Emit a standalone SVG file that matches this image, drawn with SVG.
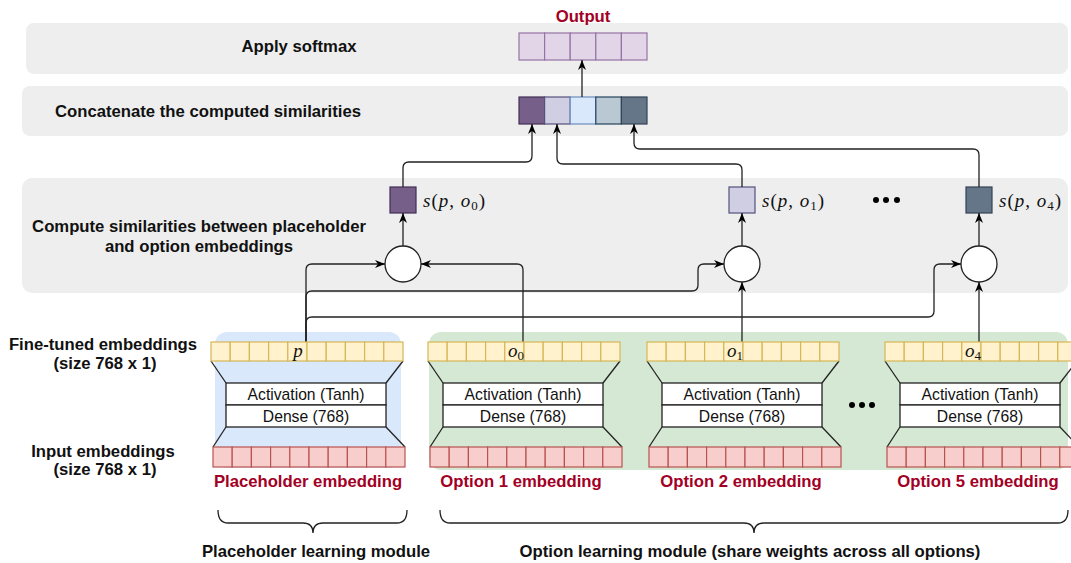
<svg xmlns="http://www.w3.org/2000/svg" xmlns:xlink="http://www.w3.org/1999/xlink" width="1071" height="563" viewBox="0 0 1071 563">
<style>
.panel{fill:#eeeeee;}
.t{font-family:"Liberation Sans",Arial,sans-serif;font-size:16.7px;font-weight:bold;fill:#111;}
.red{fill:#a20025;}
.reg{font-family:"Liberation Sans",Arial,sans-serif;font-size:15.7px;fill:#111;}
.math{font-family:"Liberation Serif","Times New Roman",serif;font-size:19px;fill:#111;}
.sl{letter-spacing:1px;}
.it{font-style:italic;}
.edge{fill:none;stroke:#222;stroke-width:1.3;}
.box{fill:#fff;stroke:#222;stroke-width:1.3;}
.trap{stroke:#222;stroke-width:1.3;}
.circ{fill:#fff;stroke:#222;stroke-width:1.3;}
.yc{fill:#fff2cc;stroke:#d6b656;stroke-width:1.2;}
.rc{fill:#f8cecc;stroke:#b85450;stroke-width:1.2;}
.oc{fill:#e1d5e7;stroke:#9673a6;stroke-width:1.2;}
.brace{fill:none;stroke:#222;stroke-width:1.3;}
</style>
<defs>
<marker id="arr" viewBox="0 0 10 8" refX="10" refY="4" markerWidth="10" markerHeight="8" markerUnits="userSpaceOnUse" orient="auto">
<path d="M0,0 L10,4 L0,8 L3,4 Z" fill="#000"/>
</marker>
<g id="yrow">
<rect class="yc" x="0" y="0" width="19.2" height="19"/><rect class="yc" x="19.2" y="0" width="19.2" height="19"/><rect class="yc" x="38.4" y="0" width="19.2" height="19"/><rect class="yc" x="57.6" y="0" width="19.2" height="19"/><rect class="yc" x="76.8" y="0" width="19.2" height="19"/><rect class="yc" x="96" y="0" width="19.2" height="19"/><rect class="yc" x="115.2" y="0" width="19.2" height="19"/><rect class="yc" x="134.4" y="0" width="19.2" height="19"/><rect class="yc" x="153.6" y="0" width="19.2" height="19"/><rect class="yc" x="172.8" y="0" width="19.2" height="19"/>
</g>
<g id="rrow">
<rect class="rc" x="0" y="0" width="19.2" height="20"/><rect class="rc" x="19.2" y="0" width="19.2" height="20"/><rect class="rc" x="38.4" y="0" width="19.2" height="20"/><rect class="rc" x="57.6" y="0" width="19.2" height="20"/><rect class="rc" x="76.8" y="0" width="19.2" height="20"/><rect class="rc" x="96" y="0" width="19.2" height="20"/><rect class="rc" x="115.2" y="0" width="19.2" height="20"/><rect class="rc" x="134.4" y="0" width="19.2" height="20"/><rect class="rc" x="153.6" y="0" width="19.2" height="20"/><rect class="rc" x="172.8" y="0" width="19.2" height="20"/>
</g>
<g id="mlp">
<line class="trap" x1="0" y1="19" x2="15" y2="41"/>
<line class="trap" x1="192" y1="19" x2="175" y2="41"/>
<line class="trap" x1="15" y1="85" x2="2" y2="105"/>
<line class="trap" x1="175" y1="85" x2="194" y2="105"/>
<rect class="box" x="15" y="41" width="160" height="22"/>
<rect class="box" x="15" y="63" width="160" height="22"/>
<text class="reg" x="95" y="58" text-anchor="middle">Activation (Tanh)</text>
<text class="reg" x="95" y="80" text-anchor="middle">Dense (768)</text>
<use xlink:href="#yrow" x="0" y="0"/>
<use xlink:href="#rrow" x="2" y="105"/>
</g>
</defs>

<g id="panels">
<rect class="panel" x="26" y="23" width="1042" height="51" rx="8"/>
<rect class="panel" x="22" y="86" width="1046" height="50" rx="8"/>
<rect class="panel" x="22" y="178" width="1046" height="115" rx="10"/>
<rect x="215" y="332" width="186" height="136" rx="12" fill="#dae8fc"/>
<rect x="429" y="332" width="639" height="138" rx="12" fill="#d5e8d4"/>
</g>

<g id="row-labels">
<text class="t" x="299" y="52" text-anchor="middle">Apply softmax</text>
<text class="t" x="208" y="117" text-anchor="middle">Concatenate the computed similarities</text>
<text class="t" x="199" y="232" text-anchor="middle">Compute similarities between placeholder</text>
<text class="t" x="199" y="252" text-anchor="middle">and option embeddings</text>
<text class="t" x="103" y="350" text-anchor="middle">Fine-tuned embeddings</text>
<text class="t" x="105" y="369" text-anchor="middle">(size 768 x 1)</text>
<text class="t" x="103" y="457" text-anchor="middle">Input embeddings</text>
<text class="t" x="105" y="475" text-anchor="middle">(size 768 x 1)</text>
</g>

<g id="output">
<text class="t red" x="583" y="22" text-anchor="middle">Output</text>
<rect class="oc" x="519" y="33" width="25.6" height="27"/>
<rect class="oc" x="544.6" y="33" width="25.6" height="27"/>
<rect class="oc" x="570.2" y="33" width="25.6" height="27"/>
<rect class="oc" x="595.8" y="33" width="25.6" height="27"/>
<rect class="oc" x="621.4" y="33" width="25.6" height="27"/>
</g>

<g id="concat">
<rect x="519" y="97" width="25.6" height="27" fill="#76608a" stroke="#432d57" stroke-width="1.2"/>
<rect x="544.6" y="97" width="25.6" height="27" fill="#d0cee2" stroke="#56517e" stroke-width="1.2"/>
<rect x="570.2" y="97" width="25.6" height="27" fill="#dae8fc" stroke="#6c8ebf" stroke-width="1.2"/>
<rect x="595.8" y="97" width="25.6" height="27" fill="#bac8d3" stroke="#23445d" stroke-width="1.2"/>
<rect x="621.4" y="97" width="25.6" height="27" fill="#647687" stroke="#314354" stroke-width="1.2"/>
</g>

<g id="sim0">
<rect x="390" y="187" width="26" height="26" fill="#76608a" stroke="#432d57" stroke-width="1.2"/>
<text class="math sl" x="423" y="207"><tspan class="it">s</tspan>(<tspan class="it">p</tspan>, <tspan class="it">o</tspan><tspan font-size="13" dy="3">0</tspan><tspan dy="-3">)</tspan></text>
<circle class="circ" cx="403" cy="264" r="18"/>
</g>
<g id="sim1">
<rect x="729" y="187" width="26" height="26" fill="#d0cee2" stroke="#56517e" stroke-width="1.2"/>
<text class="math sl" x="762" y="207"><tspan class="it">s</tspan>(<tspan class="it">p</tspan>, <tspan class="it">o</tspan><tspan font-size="13" dy="3">1</tspan><tspan dy="-3">)</tspan></text>
<circle class="circ" cx="742" cy="264" r="18"/>
</g>
<g id="sim-dots">
<circle cx="876" cy="200" r="3" fill="#000"/>
<circle cx="886" cy="200" r="3" fill="#000"/>
<circle cx="897" cy="200" r="3" fill="#000"/>
</g>
<g id="sim4">
<rect x="966" y="187" width="26" height="26" fill="#647687" stroke="#314354" stroke-width="1.2"/>
<text class="math sl" x="999" y="207"><tspan class="it">s</tspan>(<tspan class="it">p</tspan>, <tspan class="it">o</tspan><tspan font-size="13" dy="3">4</tspan><tspan dy="-3">)</tspan></text>
<circle class="circ" cx="979" cy="264" r="18"/>
</g>

<g id="connectors">
<path class="edge" d="M582,97 V60" marker-end="url(#arr)"/>
<path class="edge" d="M403,187 V168 Q403,162 409,162 H526 Q532,162 532,156 V124" marker-end="url(#arr)"/>
<path class="edge" d="M742,187 V170 Q742,164 736,164 H563 Q557,164 557,158 V124" marker-end="url(#arr)"/>
<path class="edge" d="M979,187 V155 Q979,149 973,149 H640 Q634,149 634,143 V124" marker-end="url(#arr)"/>
<path class="edge" d="M403,246 V213" marker-end="url(#arr)"/>
<path class="edge" d="M742,246 V213" marker-end="url(#arr)"/>
<path class="edge" d="M979,246 V213" marker-end="url(#arr)"/>
<path class="edge" d="M306,342 V270 Q306,264 312,264 H385" marker-end="url(#arr)"/>
<path class="edge" d="M306,342 V297 Q306,291 312,291 H692 Q698,291 698,285 V270 Q698,264 704,264 H724" marker-end="url(#arr)"/>
<path class="edge" d="M306,342 V323 Q306,317 312,317 H928 Q934,317 934,311 V270 Q934,264 940,264 H961" marker-end="url(#arr)"/>
<path class="edge" d="M523,342 V270 Q523,264 517,264 H421" marker-end="url(#arr)"/>
<path class="edge" d="M742,342 V282" marker-end="url(#arr)"/>
<path class="edge" d="M979,342 V282" marker-end="url(#arr)"/>
</g>

<g id="placeholder-module">
<use xlink:href="#mlp" x="211" y="342"/>
<text class="math it" x="298" y="357" text-anchor="middle">p</text>
<text class="t red" x="308" y="487" text-anchor="middle">Placeholder embedding</text>
</g>
<g id="option1-module">
<use xlink:href="#mlp" x="428" y="342"/>
<text class="math" x="508" y="357"><tspan class="it">o</tspan><tspan font-size="13" dy="3">0</tspan></text>
<text class="t red" x="521" y="487" text-anchor="middle">Option 1 embedding</text>
</g>
<g id="option2-module">
<use xlink:href="#mlp" x="647" y="342"/>
<text class="math" x="727" y="357"><tspan class="it">o</tspan><tspan font-size="13" dy="3">1</tspan></text>
<text class="t red" x="741" y="487" text-anchor="middle">Option 2 embedding</text>
</g>
<g id="module-dots">
<circle cx="852" cy="405" r="3" fill="#000"/>
<circle cx="862" cy="405" r="3" fill="#000"/>
<circle cx="872" cy="405" r="3" fill="#000"/>
</g>
<g id="option5-module">
<use xlink:href="#mlp" x="885" y="342"/>
<text class="math" x="965" y="357"><tspan class="it">o</tspan><tspan font-size="13" dy="3">4</tspan></text>
<text class="t red" x="978" y="487" text-anchor="middle">Option 5 embedding</text>
</g>

<g id="braces">
<path class="brace" d="M218,510 Q218,523 228,523 H303 Q313,523 313,533 Q313,523 323,523 H397 Q407,523 407,510"/>
<path class="brace" d="M440,510 Q440,523 450,523 H744 Q754,523 754,533 Q754,523 764,523 H1058 Q1068,523 1068,510"/>
<text class="t" x="316" y="557" text-anchor="middle">Placeholder learning module</text>
<text class="t" x="750" y="557" text-anchor="middle">Option learning module (share weights across all options)</text>
</g>
</svg>
